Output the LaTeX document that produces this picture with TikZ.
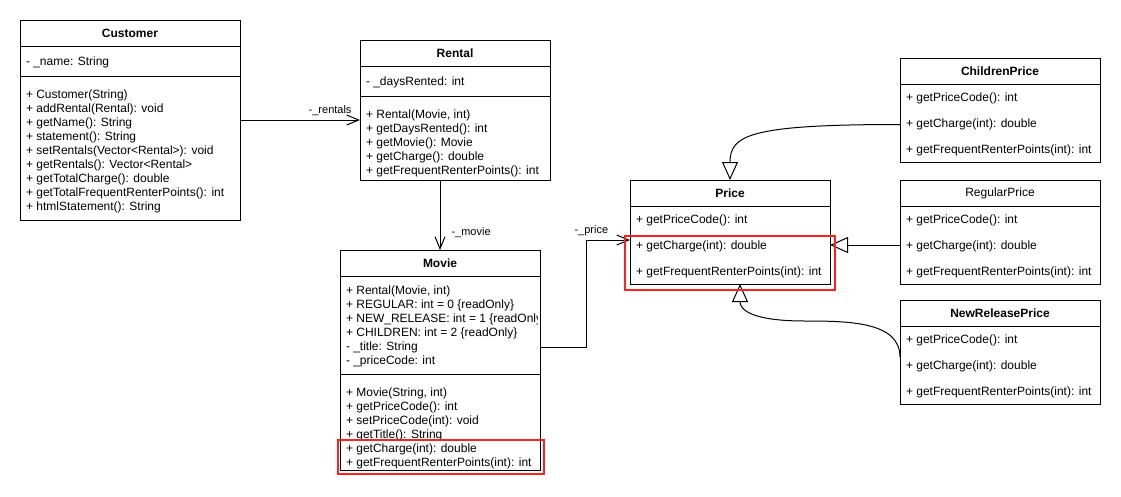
\documentclass[tikz,border=0pt]{standalone}
\usepackage{fontspec}
\setmainfont{Liberation Sans}
\usepackage{tikz}
\usetikzlibrary{arrows.meta, positioning, calc}
\definecolor{hlred}{HTML}{FF2020}

\tikzset{
  classtitle/.style={draw, outer sep=0pt, minimum width=#1, minimum height=26pt, font=\bfseries\fontsize{12}{14}\selectfont},
  compart/.style={draw, outer sep=0pt, minimum width=#1},
  members/.style={align=left, inner xsep=6pt, inner ysep=0pt, outer sep=0pt, font=\fontsize{12}{14}\selectfont},
  member/.style={anchor=west, inner xsep=6pt, inner ysep=0pt, outer sep=0pt, font=\fontsize{12}{14}\selectfont},
  edgelabel/.style={font=\fontsize{11}{13}\selectfont, inner sep=0pt},
  assoc/.style={draw, -{Straight Barb[length=12pt,width=10pt]}},
  generalize/.style={draw, -{Triangle[open,length=18pt,width=16pt]}},
  highlight/.style={draw=hlred, line width=2pt}
}

\begin{document}
\begin{tikzpicture}[x=1pt, y=-1pt, line width=1pt]
    \path[use as bounding box, fill=white] (0,0) rectangle (1121,496);

    % Customer
    \node[classtitle=220, anchor=north west] (custTitle) at (20,20) {Customer};
    \node[compart=220, minimum height=30pt, below=0pt of custTitle] (custAttr) {};
    \node[member] (custName) at ([yshift=-1pt]custAttr.west) {- \_name: String};
    \node[compart=220, minimum height=144pt, below=0pt of custAttr] (custOps) {};
    \node[members, below right=12.5pt and 0pt of custOps.north west] (custOpsTxt) {\strut + Customer(String)\\
      + addRental(Rental): void\\
      + getName(): String\\
      + statement(): String\\
      + setRentals(Vector<Rental>): void\\
      + getRentals(): Vector<Rental>\\
      + getTotalCharge(): double\\
      + getTotalFrequentRenterPoints(): int\\
      + htmlStatement(): String};

    % Rental
    \node[classtitle=190, anchor=north west] (rentTitle) at (360,40) {Rental};
    \node[compart=190, minimum height=30pt, below=0pt of rentTitle] (rentAttr) {};
    \node[member] (rentDays) at ([yshift=-1pt]rentAttr.west) {- \_daysRented: int};
    \node[compart=190, minimum height=84pt, below=0pt of rentAttr] (rentOps) {};
    \node[members, below right=12.5pt and 0pt of rentOps.north west] (rentOpsTxt) {\strut + Rental(Movie, int)\\
      + getDaysRented(): int\\
      + getMovie(): Movie\\
      + getCharge(): double\\
      + getFrequentRenterPoints(): int};

    % Movie
    \node[classtitle=200, anchor=north west] (movieTitle) at (340,250) {Movie};
    \node[compart=200, minimum height=98pt, below=0pt of movieTitle] (movieAttr) {};
    \begin{scope}
      \clip (movieAttr.north west) rectangle ([xshift=-3pt]movieAttr.south east);
      \node[members, below right=8.5pt and 0pt of movieAttr.north west] (movieAttrTxt) {\strut + Rental(Movie, int)\\
        + REGULAR: int = 0 \{readOnly\}\\
        + NEW\_RELEASE: int = 1 \{readOnly\}\\
        + CHILDREN: int = 2 \{readOnly\}\\
        - \_title: String\\
        - \_priceCode: int};
    \end{scope}
    \node[compart=200, minimum height=96pt, below=0pt of movieAttr] (movieOps) {};
    \node[members, below right=12.5pt and 0pt of movieOps.north west] (movieOpsTxt) {\strut + Movie(String, int)\\
      + getPriceCode(): int\\
      + setPriceCode(int): void\\
      + getTitle(): String\\
      + getCharge(int): double\\
      + getFrequentRenterPoints(int): int};

    % Price
    \node[classtitle=200, anchor=north west] (priceTitle) at (630,180) {Price};
    \node[compart=200, minimum height=78pt, below=0pt of priceTitle] (priceBody) {};
    \node[member] (priceCode) at ([yshift=-14.5pt]priceBody.north west) {+ getPriceCode(): int};
    \node[member] (priceCharge) at ([yshift=-40.5pt]priceBody.north west) {+ getCharge(int): double};
    \node[member] (priceFreq) at ([yshift=-66.5pt]priceBody.north west) {+ getFrequentRenterPoints(int): int};

    % ChildrenPrice
    \node[classtitle=200, anchor=north west] (childTitle) at (900,58) {ChildrenPrice};
    \node[compart=200, minimum height=78pt, below=0pt of childTitle] (childBody) {};
    \node[member] (childCode) at ([yshift=-14.5pt]childBody.north west) {+ getPriceCode(): int};
    \node[member] (childCharge) at ([yshift=-40.5pt]childBody.north west) {+ getCharge(int): double};
    \node[member] (childFreq) at ([yshift=-66.5pt]childBody.north west) {+ getFrequentRenterPoints(int): int};

    % RegularPrice
    \node[classtitle=200, anchor=north west, font=\fontsize{12}{14}\selectfont] (regTitle) at (900,180) {RegularPrice};
    \node[compart=200, minimum height=78pt, below=0pt of regTitle] (regBody) {};
    \node[member] (regCode) at ([yshift=-14.5pt]regBody.north west) {+ getPriceCode(): int};
    \node[member] (regCharge) at ([yshift=-40.5pt]regBody.north west) {+ getCharge(int): double};
    \node[member] (regFreq) at ([yshift=-66.5pt]regBody.north west) {+ getFrequentRenterPoints(int): int};

    % NewReleasePrice
    \node[classtitle=200, anchor=north west] (nrTitle) at (900,300) {NewReleasePrice};
    \node[compart=200, minimum height=78pt, below=0pt of nrTitle] (nrBody) {};
    \node[member] (nrCode) at ([yshift=-14.5pt]nrBody.north west) {+ getPriceCode(): int};
    \node[member] (nrCharge) at ([yshift=-40.5pt]nrBody.north west) {+ getCharge(int): double};
    \node[member] (nrFreq) at ([yshift=-66.5pt]nrBody.north west) {+ getFrequentRenterPoints(int): int};

    % associations
    \coordinate (rentIn) at ([yshift=-24pt]rentOps.north west);
    \draw[assoc] (rentIn -| custOps.east) -- node[edgelabel, pos=1, anchor=south east, xshift=-8pt, yshift=3.5pt] (rentLbl) {-\_rentals} (rentIn);
    \draw[assoc] (rentOps.south -| movieTitle.north) -- node[edgelabel, pos=1, anchor=west, xshift=11pt, yshift=17pt] (movieLbl) {-\_movie} (movieTitle.north);
    \coordinate (movieOut) at ([yshift=-22pt]movieAttr.east);
    \coordinate (priceIn) at ([yshift=6.5pt]priceCharge.west);
    \draw[assoc] (movieOut) -| ([xshift=-44pt]priceIn) -- node[edgelabel, pos=0, anchor=south west, xshift=-12pt, yshift=4pt] (priceLbl) {-\_price} (priceIn);

    % generalizations
    \draw[generalize] (childCharge.west) .. controls +(-150,0) and +(0,-45) .. (priceTitle.north);
    \draw[generalize] ([yshift=1.5pt]regCharge.west) -- ([yshift=1.5pt]regCharge.west -| priceBody.east);
    \coordinate (nrBend) at (805,321);
    \draw[generalize] ([yshift=9.5pt]nrCharge.west) .. controls +(0,-35) and +(45,0) .. (nrBend)
      .. controls +(-55,0) and +(0,25) .. ([xshift=10pt]priceBody.south);

    % highlights
    \draw[highlight] ([xshift=-5pt,yshift=-30pt]priceBody.north west) rectangle ([xshift=5pt,yshift=-6pt]priceBody.south east);
    \draw[highlight] ([xshift=-2pt,yshift=-66pt]movieOps.north west) rectangle ([xshift=4pt,yshift=-4pt]movieOps.south east);
\end{tikzpicture}
\end{document}
